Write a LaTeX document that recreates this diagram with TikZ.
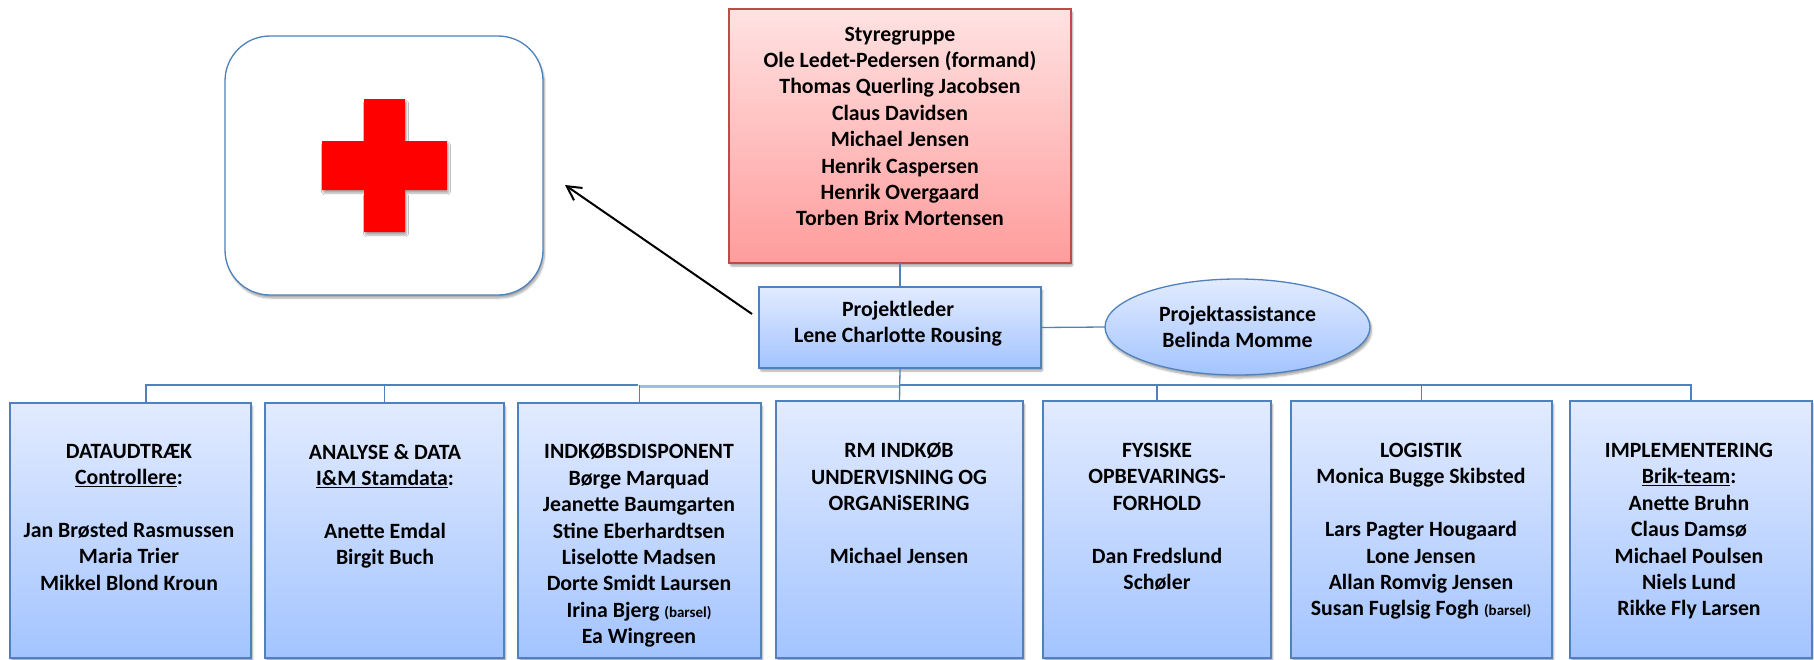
\documentclass[tikz,border=0pt]{standalone}
\usepackage{fontspec}
\setmainfont{Carlito}
\usepackage{xcolor}
\usetikzlibrary{positioning,shapes.geometric,arrows.meta,shadows.blur}

\definecolor{boxline}{RGB}{79,129,189}
\definecolor{boxtop}{RGB}{226,235,255}
\definecolor{boxbottom}{RGB}{163,196,255}
\definecolor{redline}{RGB}{190,75,72}
\definecolor{redtop}{RGB}{255,226,226}
\definecolor{redbottom}{RGB}{255,156,156}
\definecolor{palelink}{RGB}{160,190,225}

\tikzset{
  softshadow/.style={blur shadow={shadow xshift=1.5pt,shadow yshift=-3pt,shadow blur steps=6,shadow blur extra rounding=1pt,shadow opacity=35}},
  orgbox/.style={draw=boxline,line width=1.3pt,top color=boxtop,bottom color=boxbottom,anchor=north west,inner sep=0pt,outer sep=0pt,softshadow},
  redbox/.style={orgbox,draw=redline,top color=redtop,bottom color=redbottom},
  orgfont/.style={font=\fontsize{21.8pt}{26.4pt}\selectfont\bfseries},
  orgtext/.style={orgfont,anchor=north,align=center,inner sep=0pt,execute at begin node=\strut},
  link/.style={draw=boxline,line width=1.3pt},
  palelinkline/.style={draw=palelink,line width=3pt},
}
\newcommand{\barsel}{{\fontsize{15pt}{26.4pt}\selectfont (barsel)}}

\begin{document}
\begin{tikzpicture}[x=1pt,y=1pt,yscale=-1,xscale=1]
\useasboundingbox (0,0) rectangle (1814,659);

%Rounded Rect
\node [draw=boxline,line width=1.3pt,fill=white,rounded corners=45pt,anchor=north west,inner sep=0pt,outer sep=0pt,minimum width=318pt,minimum height=259pt,softshadow] (whitecard) at (225,36) {};
%Cross
\fill [red,softshadow] (364,99) -- (405,99) -- (405,141) -- (447,141) -- (447,190) -- (405,190) -- (405,232) -- (364,232) -- (364,190) -- (322,190) -- (322,141) -- (364,141) -- cycle ;

%Boxes
\node [redbox,minimum width=342pt,minimum height=254pt] (styregruppe) at (729,9) {};
\node [orgbox,minimum width=282pt,minimum height=81pt] (projektleder) at (759,287) {};
\node [orgbox,minimum width=241pt,minimum height=255pt] (dataudtraek) at (10,403) {};
\node [orgbox,minimum width=239pt,minimum height=255pt] (analyse) at (265,403) {};
\node [orgbox,minimum width=243pt,minimum height=255pt] (indkob) at (518,403) {};
\node [orgbox,minimum width=247pt,minimum height=257pt] (rmindkob) at (776,401) {};
\node [orgbox,minimum width=228pt,minimum height=257pt] (fysiske) at (1043,401) {};
\node [orgbox,minimum width=261pt,minimum height=257pt] (logistik) at (1291,401) {};
\node [orgbox,minimum width=242pt,minimum height=257pt] (implementering) at (1570,401) {};
%Ellipse
\node [ellipse,orgbox,orgfont,anchor=center,minimum width=265pt,minimum height=96pt,align=center] (assistance) at (1237.5,327) {Projektassistance\\Belinda Momme};

%Straight Lines
\coordinate (busgap) at (638,385);
\coordinate (busmid) at (900,385);
\coordinate (paleleft) at (640,386);
\coordinate (paleright) at (900,386);
\coordinate (dataudtop) at (146,403);
\coordinate (arrowstart) at (752,314);
\coordinate (arrowend) at (565,185);
\draw [link] (styregruppe.south) -- (projektleder.north);
\draw [link] (projektleder.east) -- (assistance.west);
\draw [link] (dataudtop) |- (busgap);
\draw [link] (analyse.north) |- (busgap);
\draw [palelinkline] (paleleft) -- (paleright);
\draw [link] (indkob.north) -- (indkob.north |- busmid);
\draw [link] (projektleder.south) -- (rmindkob.north);
\foreach \boxname in {fysiske,logistik,implementering}
  \draw [link] (\boxname.north) |- (busmid);
\draw [black,line width=2pt,-{Straight Barb[length=14pt,width=15pt]}] (arrowstart) -- (arrowend);

% Text Node
\node [orgtext] (styregruppetext) at (900,26.5) {Styregruppe\\Ole Ledet-Pedersen (formand)\\Thomas Querling Jacobsen\\Claus Davidsen\\Michael Jensen\\Henrik Caspersen\\Henrik Overgaard\\Torben Brix Mortensen};
% Text Node
\node [orgtext] (projektledertext) at (898,301) {Projektleder\\Lene Charlotte Rousing};
% Text Node
\node [orgtext] (dataudtraektext) at (129,444) {DATAUDTRÆK\\\underline{Controllere}:\\~\\Jan Brøsted Rasmussen\\Maria Trier\\Mikkel Blond Kroun};
% Text Node
\node [orgtext] (analysetext) at (385,444) {ANALYSE \& DATA\\\underline{I\&M Stamdata}:\\~\\Anette Emdal\\Birgit Buch};
% Text Node
\node [orgtext] (indkobtext) at (639,444) {INDKØBSDISPONENT\\Børge Marquad\\Jeanette Baumgarten\\Stine Eberhardtsen\\Liselotte Madsen\\Dorte Smidt Laursen\\Irina Bjerg \barsel\\Ea Wingreen};
% Text Node
\node [orgtext] (rmindkobtext) at (899,443) {RM INDKØB\\UNDERVISNING OG\\ORGANiSERING\\~\\Michael Jensen};
% Text Node
\node [orgtext] (fysisketext) at (1157,443) {FYSISKE\\OPBEVARINGS-\\FORHOLD\\~\\Dan Fredslund\\Schøler};
% Text Node
\node [orgtext] (logistiktext) at (1421,443) {LOGISTIK\\Monica Bugge Skibsted\\~\\Lars Pagter Hougaard\\Lone Jensen\\Allan Romvig Jensen\\Susan Fuglsig Fogh \barsel};
% Text Node
\node [orgtext] (implementeringtext) at (1689,443) {IMPLEMENTERING\\\underline{Brik-team}:\\Anette Bruhn\\Claus Damsø\\Michael Poulsen\\Niels Lund\\Rikke Fly Larsen};
\end{tikzpicture}
\end{document}
